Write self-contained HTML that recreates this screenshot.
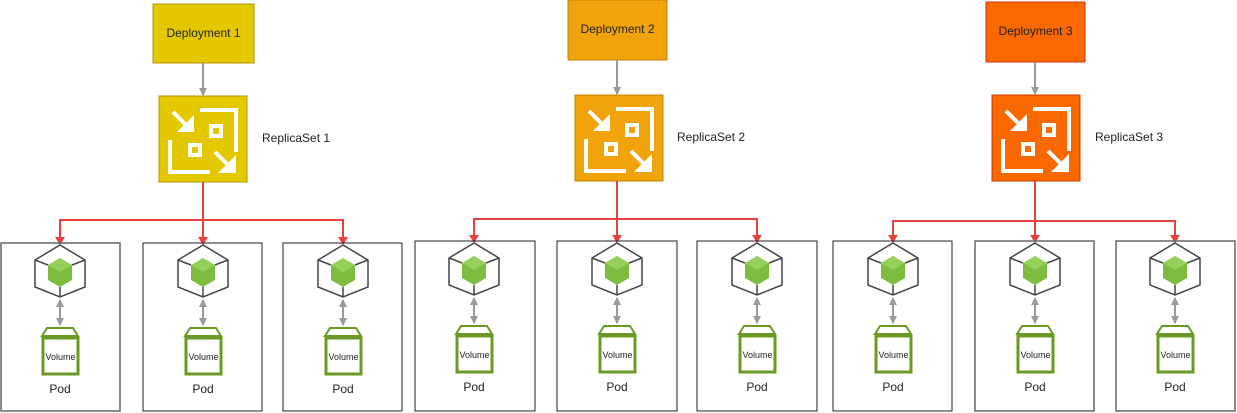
<!DOCTYPE html>
<html><head><meta charset="utf-8"><style>html,body{margin:0;padding:0;background:#fff}svg{display:block}</style></head>
<body>
<svg width="1237" height="413" viewBox="0 0 1237 413" xmlns="http://www.w3.org/2000/svg" font-family="Liberation Sans, Arial, sans-serif">
<defs>
<marker id="ga" markerWidth="8" markerHeight="8" refX="7" refY="4" orient="auto" markerUnits="userSpaceOnUse"><path d="M0,0 L8,4 L0,8 Z" fill="#999"/></marker>
<marker id="ra" markerWidth="8" markerHeight="10" refX="7" refY="5" orient="auto" markerUnits="userSpaceOnUse"><path d="M0,0 L8,5 L0,10 Z" fill="#e8403a"/></marker>
<marker id="gs" markerWidth="8" markerHeight="8" refX="1" refY="4" orient="auto" markerUnits="userSpaceOnUse"><path d="M8,0 L0,4 L8,8 Z" fill="#999"/></marker>
<g id="icon">
<g fill="none" stroke="#fff" stroke-width="4">
<path d="M41,14 H77 V56"/>
<path d="M11,44 V76 H51"/>
<rect x="52" y="30" width="10" height="10"/>
<rect x="31" y="49" width="10" height="10"/>
<path d="M14,16 L31,33"/>
<path d="M56,56 L73,73"/>
</g>
<path d="M18,36 H35 V19 Z" fill="#fff"/>
<path d="M77,59 V77 H59 Z" fill="#fff"/>
</g>
<g id="pod">
<polygon points="0,0 25,15 25,42 0,52 -25,42 -25,15" fill="#fff" stroke="#444" stroke-width="1.5"/>
<path d="M-25,15 L-12,20 M25,15 L12,20 M0,52 L0,42" stroke="#444" stroke-width="1.5"/>
<polygon points="0,13 12,20 12,35 0,42 -12,35 -12,20" fill="#7cbd3f"/>
<polygon points="0,13 12,20 0,27 -12,20" fill="#95d15a"/>
<line x1="0" y1="55" x2="0" y2="80" stroke="#999" stroke-width="2" marker-start="url(#gs)" marker-end="url(#ga)"/>
<polygon points="-13,83 13,83 18,91 -18,91" fill="#fff" stroke="#6a9a23" stroke-width="2"/>
<rect x="-17" y="93" width="35" height="36" fill="#fff" stroke="#6a9a23" stroke-width="3"/>
<text x="0.5" y="115" font-size="9" text-anchor="middle" fill="#222">Volume</text>
<text x="0" y="148" font-size="12" text-anchor="middle" fill="#222">Pod</text>
</g>
</defs>

<!-- Group 1 -->
<rect x="153" y="4" width="101" height="59" fill="#e3c800" stroke="#b09500"/>
<text x="203.5" y="37" font-size="12" text-anchor="middle" fill="#222">Deployment 1</text>
<line x1="203" y1="63" x2="203" y2="95" stroke="#999" stroke-width="2" marker-end="url(#ga)"/>
<rect x="159" y="96" width="88" height="86" fill="#e3c800" stroke="#b09500"/>
<use href="#icon" x="159" y="96"/>
<text x="262" y="142" font-size="12" fill="#222">ReplicaSet 1</text>
<path d="M203,182 V244" stroke="#e8403a" stroke-width="2" fill="none" marker-end="url(#ra)"/>
<path d="M60,243 V220 H343 V244" stroke="#e8403a" stroke-width="2" fill="none" marker-end="url(#ra)"/>
<path d="M60,220 V244" stroke="#e8403a" stroke-width="2" fill="none" marker-end="url(#ra)"/>
<rect x="1" y="243" width="119" height="168" fill="none" stroke="#666" stroke-width="1.5"/>
<rect x="143" y="243" width="119" height="168" fill="none" stroke="#222" stroke-width="1"/>
<rect x="283" y="243" width="119" height="168" fill="none" stroke="#222" stroke-width="1"/>
<use href="#pod" x="60" y="245"/>
<use href="#pod" x="203" y="245"/>
<use href="#pod" x="343" y="245"/>

<!-- Group 2 -->
<rect x="568" y="0" width="99" height="60" fill="#f0a30a" stroke="#c08000"/>
<text x="617.5" y="33" font-size="12" text-anchor="middle" fill="#222">Deployment 2</text>
<line x1="617" y1="60" x2="617" y2="94" stroke="#999" stroke-width="2" marker-end="url(#ga)"/>
<rect x="575" y="95" width="88" height="86" fill="#f0a30a" stroke="#c08000"/>
<use href="#icon" x="575" y="95"/>
<text x="677" y="141" font-size="12" fill="#222">ReplicaSet 2</text>
<path d="M617,181 V242" stroke="#e8403a" stroke-width="2" fill="none" marker-end="url(#ra)"/>
<path d="M474,242 V219 H757 V242" stroke="#e8403a" stroke-width="2" fill="none" marker-end="url(#ra)"/>
<path d="M474,219 V242" stroke="#e8403a" stroke-width="2" fill="none" marker-end="url(#ra)"/>
<rect x="415" y="241" width="120" height="170" fill="none" stroke="#222" stroke-width="1"/>
<rect x="557" y="241" width="120" height="170" fill="none" stroke="#222" stroke-width="1"/>
<rect x="697" y="241" width="120" height="170" fill="none" stroke="#222" stroke-width="1"/>
<use href="#pod" x="474" y="243"/>
<use href="#pod" x="617" y="243"/>
<use href="#pod" x="757" y="243"/>

<!-- Group 3 -->
<rect x="986" y="2" width="99" height="60" fill="#fa6800" stroke="#c73500"/>
<text x="1035.5" y="35" font-size="12" text-anchor="middle" fill="#222">Deployment 3</text>
<line x1="1035" y1="62" x2="1035" y2="94" stroke="#999" stroke-width="2" marker-end="url(#ga)"/>
<rect x="992" y="95" width="88" height="86" fill="#fa6800" stroke="#c73500"/>
<use href="#icon" x="992" y="95"/>
<text x="1095" y="141" font-size="12" fill="#222">ReplicaSet 3</text>
<path d="M1035,181 V242" stroke="#e8403a" stroke-width="2" fill="none" marker-end="url(#ra)"/>
<path d="M893,242 V221 H1175 V242" stroke="#e8403a" stroke-width="2" fill="none" marker-end="url(#ra)"/>
<path d="M893,221 V242" stroke="#e8403a" stroke-width="2" fill="none" marker-end="url(#ra)"/>
<rect x="833" y="241" width="119" height="170" fill="none" stroke="#222" stroke-width="1"/>
<rect x="975" y="241" width="119" height="170" fill="none" stroke="#666" stroke-width="1.5"/>
<rect x="1116" y="241" width="119" height="170" fill="none" stroke="#666" stroke-width="1.5"/>
<use href="#pod" x="893" y="243"/>
<use href="#pod" x="1035" y="243"/>
<use href="#pod" x="1175" y="243"/>
</svg>
</body></html>
